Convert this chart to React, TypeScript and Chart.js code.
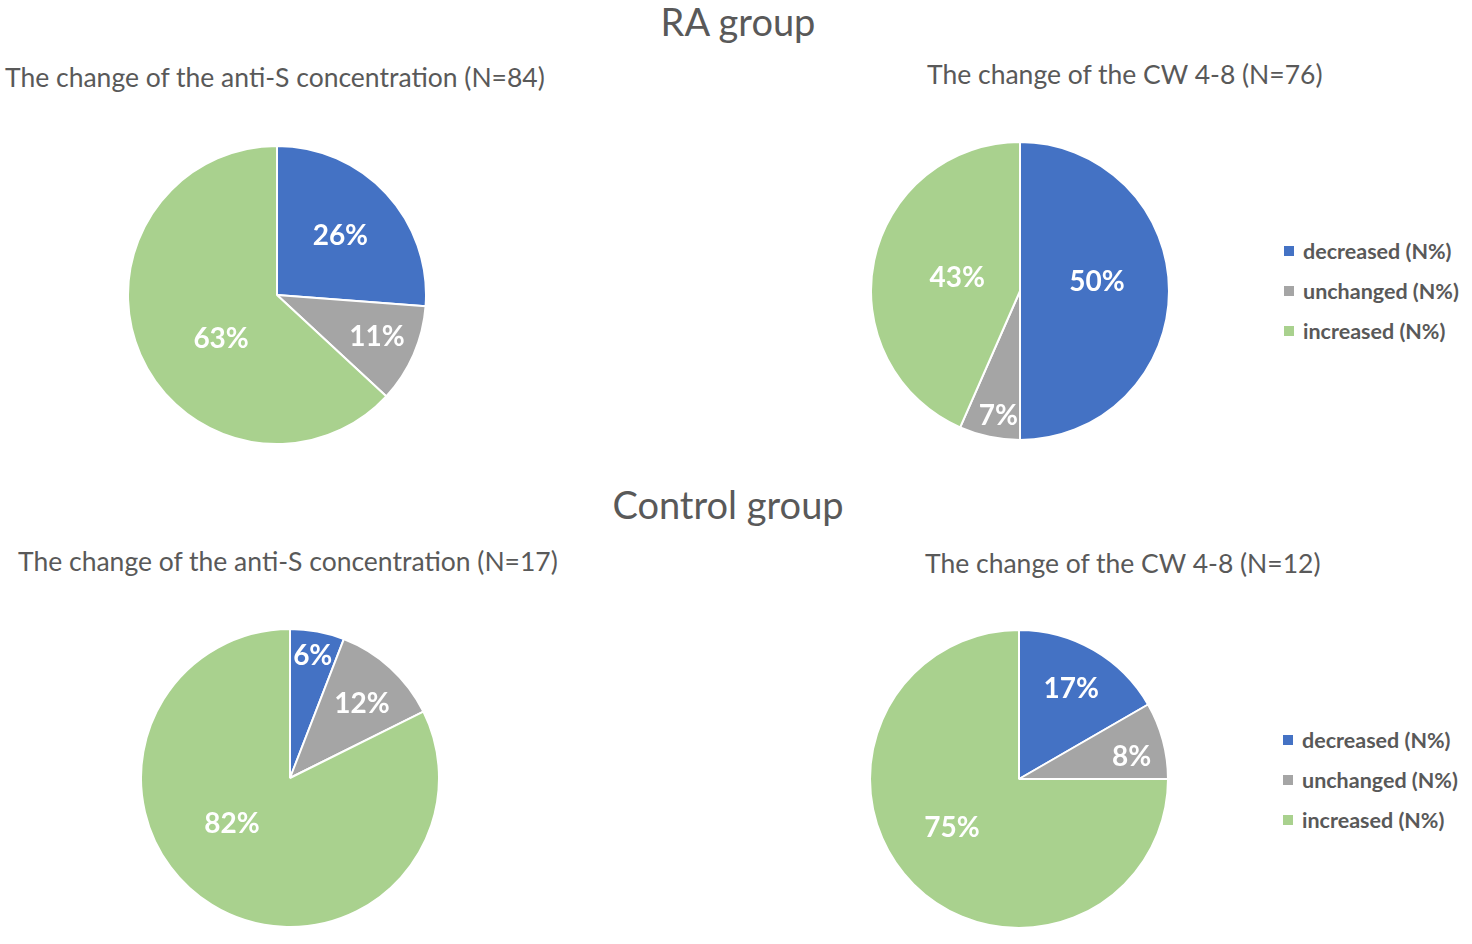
import React, { useRef, useEffect } from 'react';
import { Chart, registerables } from 'chart.js';

Chart.register(...registerables);

// ---- data ----
const categories = ['decreased (N%)', 'unchanged (N%)', 'increased (N%)'];
const sliceColors = ['#4472C4', '#A5A5A5', '#A9D18E'];

const raAntiS = [22, 9, 53];
const raCw = [38, 5, 33];
const ctrlAntiS = [1, 2, 14];
const ctrlCw = [2, 1, 9];

const groupTitles = ['RA group', 'Control group'];
const chartTitles = [
  'The change of the anti-S concentration (N=84)',
  'The change of the CW 4-8 (N=76)',
  'The change of the anti-S concentration (N=17)',
  'The change of the CW 4-8 (N=12)',
];

const FONT = 'Lato, "Open Sans", sans-serif';
const TEXT = '#595959';

// label placement per slice: fraction of radius, angle shift in degrees
type LabelPos = [number, number][];

interface PieProps {
  values: number[];
  labelPos: LabelPos;
  left: number;
  top: number;
  size: number;
}

const PieChart: React.FC<PieProps> = ({ values, labelPos, left, top, size }) => {
  const canvasRef = useRef<HTMLCanvasElement>(null);

  useEffect(() => {
    if (!canvasRef.current) return;
    const total = values.reduce((a, b) => a + b, 0);
    const chart = new Chart(canvasRef.current, {
      type: 'pie',
      data: {
        labels: categories,
        datasets: [{
          data: values,
          backgroundColor: sliceColors,
          borderColor: '#ffffff',
          borderWidth: 2,
        }],
      },
      options: {
        responsive: true,
        maintainAspectRatio: false,
        animation: false,
        layout: { padding: 0 },
        plugins: {
          legend: { display: false },
          tooltip: { enabled: false },
        },
      },
      plugins: [{
        id: 'sliceLabels',
        afterDatasetsDraw(c) {
          const ctx = c.ctx;
          const meta = c.getDatasetMeta(0);
          ctx.save();
          ctx.font = `bold 28px ${FONT}`;
          ctx.fillStyle = '#ffffff';
          ctx.textAlign = 'center';
          ctx.textBaseline = 'middle';
          meta.data.forEach((arc: any, i: number) => {
            const { x, y, startAngle, endAngle, outerRadius } = arc.getProps(
              ['x', 'y', 'startAngle', 'endAngle', 'outerRadius'], true);
            const [frac, shift] = labelPos[i];
            const mid = (startAngle + endAngle) / 2 + (shift * Math.PI) / 180;
            const r = outerRadius * frac;
            const pct = Math.round((values[i] / total) * 100);
            ctx.fillText(`${pct}%`, x + Math.cos(mid) * r, y + Math.sin(mid) * r);
          });
          ctx.restore();
        },
      }],
    });
    return () => chart.destroy();
  }, [values, labelPos]);

  return (
    <div style={{ position: 'absolute', left, top, width: size, height: size }}>
      <canvas ref={canvasRef} />
    </div>
  );
};

const Legend: React.FC<{ left: number; top: number }> = ({ left, top }) => (
  <div style={{ position: 'absolute', left, top }}>
    {categories.map((c, i) => (
      <div key={c} style={{ display: 'flex', alignItems: 'center', height: 40 }}>
        <div style={{ width: 10, height: 10, background: sliceColors[i], marginRight: 9 }} />
        <span style={{ fontFamily: FONT, fontWeight: 'bold', fontSize: 21.5, color: TEXT, whiteSpace: 'nowrap' }}>{c}</span>
      </div>
    ))}
  </div>
);

const Text: React.FC<{ x: number; y: number; size: number; children: React.ReactNode; center?: boolean }> = ({ x, y, size, children, center }) => (
  <div style={{
    position: 'absolute', left: x, top: y, transform: center ? 'translate(-50%, -50%)' : 'translateY(-50%)',
    fontFamily: FONT, fontSize: size, color: TEXT, whiteSpace: 'nowrap', lineHeight: 1,
  }}>{children}</div>
);

export default function App() {
  return (
    <div style={{ position: 'absolute', left: 0, top: 0, width: 1472, height: 944, background: '#fff', overflow: 'hidden' }}>
      <Text x={738} y={21} size={38} center>{groupTitles[0]}</Text>
      <Text x={5} y={77} size={26.5}>{chartTitles[0]}</Text>
      <Text x={927} y={74} size={26.5}>{chartTitles[1]}</Text>
      <PieChart values={raAntiS} labelPos={[[0.58, 0], [0.727, -1], [0.476, -14.4]]} left={127} top={145} size={300} />
      <PieChart values={raCw} labelPos={[[0.52, -6.7], [0.85, -2], [0.43, 0]]} left={870} top={141} size={300} />
      <Legend left={1284} top={231} />

      <Text x={728} y={504} size={38} center>{groupTitles[1]}</Text>
      <Text x={18} y={561} size={26.5}>{chartTitles[2]}</Text>
      <Text x={925} y={563} size={26.5}>{chartTitles[3]}</Text>
      <PieChart values={ctrlAntiS} labelPos={[[0.83, 0], [0.693, 1.8], [0.497, 19.8]]} left={140} top={628} size={300} />
      <PieChart values={ctrlCw} labelPos={[[0.70, 0], [0.77, 4], [0.557, 8.8]]} left={869} top={629} size={300} />
      <Legend left={1283} top={720} />
    </div>
  );
}
